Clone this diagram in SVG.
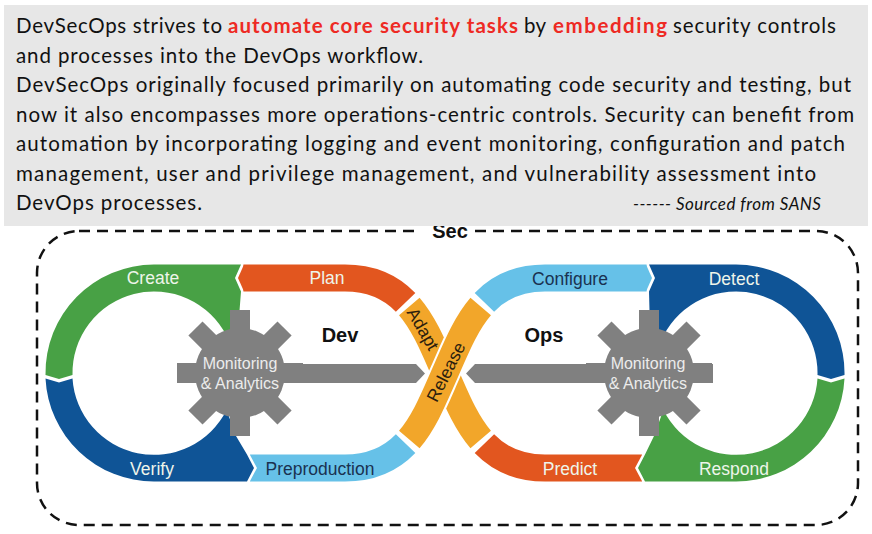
<svg xmlns="http://www.w3.org/2000/svg" xmlns:xlink="http://www.w3.org/1999/xlink" width="872" height="534" viewBox="0 0 872 534">
<style>
.txt{font-family:Lato,"Liberation Sans",sans-serif;font-size:20.5px;fill:#111}
.red{fill:#ee2a24;font-weight:bold}
.src{font-family:Lato,"Liberation Sans",sans-serif;font-size:17px;font-style:italic;fill:#111}
.band{fill:none;stroke-width:27;stroke-linecap:butt}
.lbl{font-family:"Liberation Sans",Arial,sans-serif;font-size:17.5px;text-anchor:middle}
.big{font-family:"Liberation Sans",Arial,sans-serif;font-size:20px;font-weight:bold;text-anchor:middle;fill:#111}
.gtxt{font-family:"Liberation Sans",Arial,sans-serif;font-size:16px;text-anchor:middle;fill:#ececec}
.light{fill:#eef5ea}
.dark{fill:#1a3150}
.ink{fill:#2b1d0e}
.orange{stroke:#e2561f}
.yellow{stroke:#f2a62a}
.lblue{stroke:#66c1e8}
</style>
<defs>
<g id="gear">
<circle r="45"/>
<rect x="-10" y="-63" width="20" height="30"/>
<rect x="-10" y="-63" width="20" height="30" transform="rotate(45)"/>
<rect x="-10" y="-63" width="20" height="30" transform="rotate(90)"/>
<rect x="-10" y="-63" width="20" height="30" transform="rotate(135)"/>
<rect x="-10" y="-63" width="20" height="30" transform="rotate(180)"/>
<rect x="-10" y="-63" width="20" height="30" transform="rotate(225)"/>
<rect x="-10" y="-63" width="20" height="30" transform="rotate(270)"/>
<rect x="-10" y="-63" width="20" height="30" transform="rotate(315)"/>
</g>
</defs>
<rect width="872" height="534" fill="#fff"/>

<g id="sec-boundary">
<rect x="37" y="231" width="821" height="294" rx="42" ry="42" fill="none" stroke="#111" stroke-width="2.5" stroke-dasharray="11 7"/>
<rect x="417" y="222" width="56" height="20" fill="#fff"/>
<text class="big" x="450" y="238">Sec</text>
</g>

<g id="textbox">
<rect x="4" y="5" width="864" height="221" fill="#e7e7e7"/>
<text class="txt" y="33"><tspan x="16" textLength="206" lengthAdjust="spacing">DevSecOps strives to</tspan><tspan x="228" class="red" textLength="290" lengthAdjust="spacing">automate core security tasks</tspan><tspan x="524" textLength="22" lengthAdjust="spacing">by</tspan><tspan x="553" class="red" textLength="114" lengthAdjust="spacing">embedding</tspan><tspan x="673" textLength="163" lengthAdjust="spacing">security controls</tspan></text>
<text class="txt" x="16" y="62.5" textLength="407" lengthAdjust="spacing">and processes into the DevOps workflow.</text>
<text class="txt" x="16" y="92" textLength="835" lengthAdjust="spacing">DevSecOps originally focused primarily on automating code security and testing, but</text>
<text class="txt" x="16" y="121.5" textLength="838" lengthAdjust="spacing">now it also encompasses more operations-centric controls. Security can benefit from</text>
<text class="txt" x="16" y="151" textLength="829" lengthAdjust="spacing">automation by incorporating logging and event monitoring, configuration and patch</text>
<text class="txt" x="16" y="180.5" textLength="800" lengthAdjust="spacing">management, user and privilege management, and vulnerability assessment into</text>
<text class="txt" x="16" y="210" textLength="186" lengthAdjust="spacing">DevOps processes.</text>
<text class="src" x="633" y="210" textLength="188" lengthAdjust="spacing">------ Sourced from SANS</text>
</g>

<g id="predict">
<path class="band orange" d="M484.4,443.7 C498.5,458.3 517.3,468 545,468 H642"/>
<polygon fill="#fff" points="642.5,454 635,468 642.5,482"/>
</g>
<g id="preproduction">
<path class="band lblue" d="M250,468 H345 C372.7,468 391.5,458.3 405.6,443.6"/>
<polygon fill="#fff" points="249.5,454 257,468 249.5,482"/>
</g>
<g id="create">
<path fill="#48a145" d="M45.5,375 A108.5,108.5 0 0 1 154,264.5 H241 L235,278 L241,291.5 L238,330 L226.6,336 A81.5,81.5 0 0 0 72.5,375 L59,379 Z"/>
</g>
<g id="verify">
<path fill="#0f5496" d="M45.5,378.5 A108.5,108.5 0 0 0 154,481.5 H247 L254,468 L247,454.5 L236,436 L226.6,410 A81.5,81.5 0 0 1 72.5,378.5 L59,382.5 Z"/>
</g>
<g id="detect">
<path fill="#0f5496" d="M844.5,375 A108.5,108.5 0 0 0 736,264.5 H649 L655,278 L649,291.5 L650,330 L663.4,336 A81.5,81.5 0 0 1 817.5,375 L831,379 Z"/>
</g>
<g id="respond">
<path fill="#48a145" d="M844.5,378.5 A108.5,108.5 0 0 1 736,481.5 H645 L638,468 L645,454.5 L654,436 L663.4,410 A81.5,81.5 0 0 0 817.5,378.5 L831,382.5 Z"/>
</g>
<g id="plan">
<path class="band orange" d="M243.5,278 H345 C372.7,278 391.5,287.7 405.6,302.4"/>
<polygon fill="#e2561f" points="244,264.5 238,278 244,291.5"/>
</g>
<g id="configure">
<path class="band lblue" d="M484.4,302.3 C498.5,287.7 517.3,278 545,278 H646.5"/>
<polygon fill="#66c1e8" points="646,264.5 652,278 646,291.5"/>
</g>
<g id="adapt">
<path class="band yellow" d="M409.3,306.5 C425,324.9 434.6,349.6 445,373 C455.4,396.4 465,421.2 480.7,439.5"/>
</g>
<g id="release">
<path fill="none" stroke="#fff" stroke-width="31" d="M409.3,439.5 C425,421.1 434.6,396.4 445,373 C455.4,349.6 465,324.8 480.7,306.5"/>
<path class="band yellow" d="M409.3,439.5 C425,421.1 434.6,396.4 445,373 C455.4,349.6 465,324.8 480.7,306.5"/>
</g>

<g id="connectors">
<polygon fill="#808080" points="177,364 416,364 425,373.5 416,383 177,383"/>
<polygon fill="#808080" points="713,364 475,364 466,373.5 475,383 713,383"/>
</g>

<g id="gear-dev">
<use xlink:href="#gear" href="#gear" x="240" y="373" fill="#808080"/>
<text class="gtxt" x="240" y="369">Monitoring</text>
<text class="gtxt" x="240" y="389">&amp; Analytics</text>
</g>
<g id="gear-ops">
<use xlink:href="#gear" href="#gear" x="649" y="373" fill="#808080"/>
<text class="gtxt" x="648" y="369">Monitoring</text>
<text class="gtxt" x="648" y="389">&amp; Analytics</text>
</g>

<g id="labels">
<text class="lbl light" x="153" y="284">Create</text>
<text class="lbl light" x="327" y="284">Plan</text>
<text class="lbl light" x="152" y="475">Verify</text>
<text class="lbl dark" x="320" y="475">Preproduction</text>
<text class="lbl dark" x="570" y="285">Configure</text>
<text class="lbl light" x="734" y="285">Detect</text>
<text class="lbl light" x="570" y="475">Predict</text>
<text class="lbl light" x="734" y="475">Respond</text>
<text class="lbl ink" transform="translate(423,329) rotate(60)" y="6">Adapt</text>
<text class="lbl ink" transform="translate(446,372) rotate(-63)" y="6">Release</text>
<text class="big" x="340" y="342">Dev</text>
<text class="big" x="544" y="342">Ops</text>
</g>
</svg>
